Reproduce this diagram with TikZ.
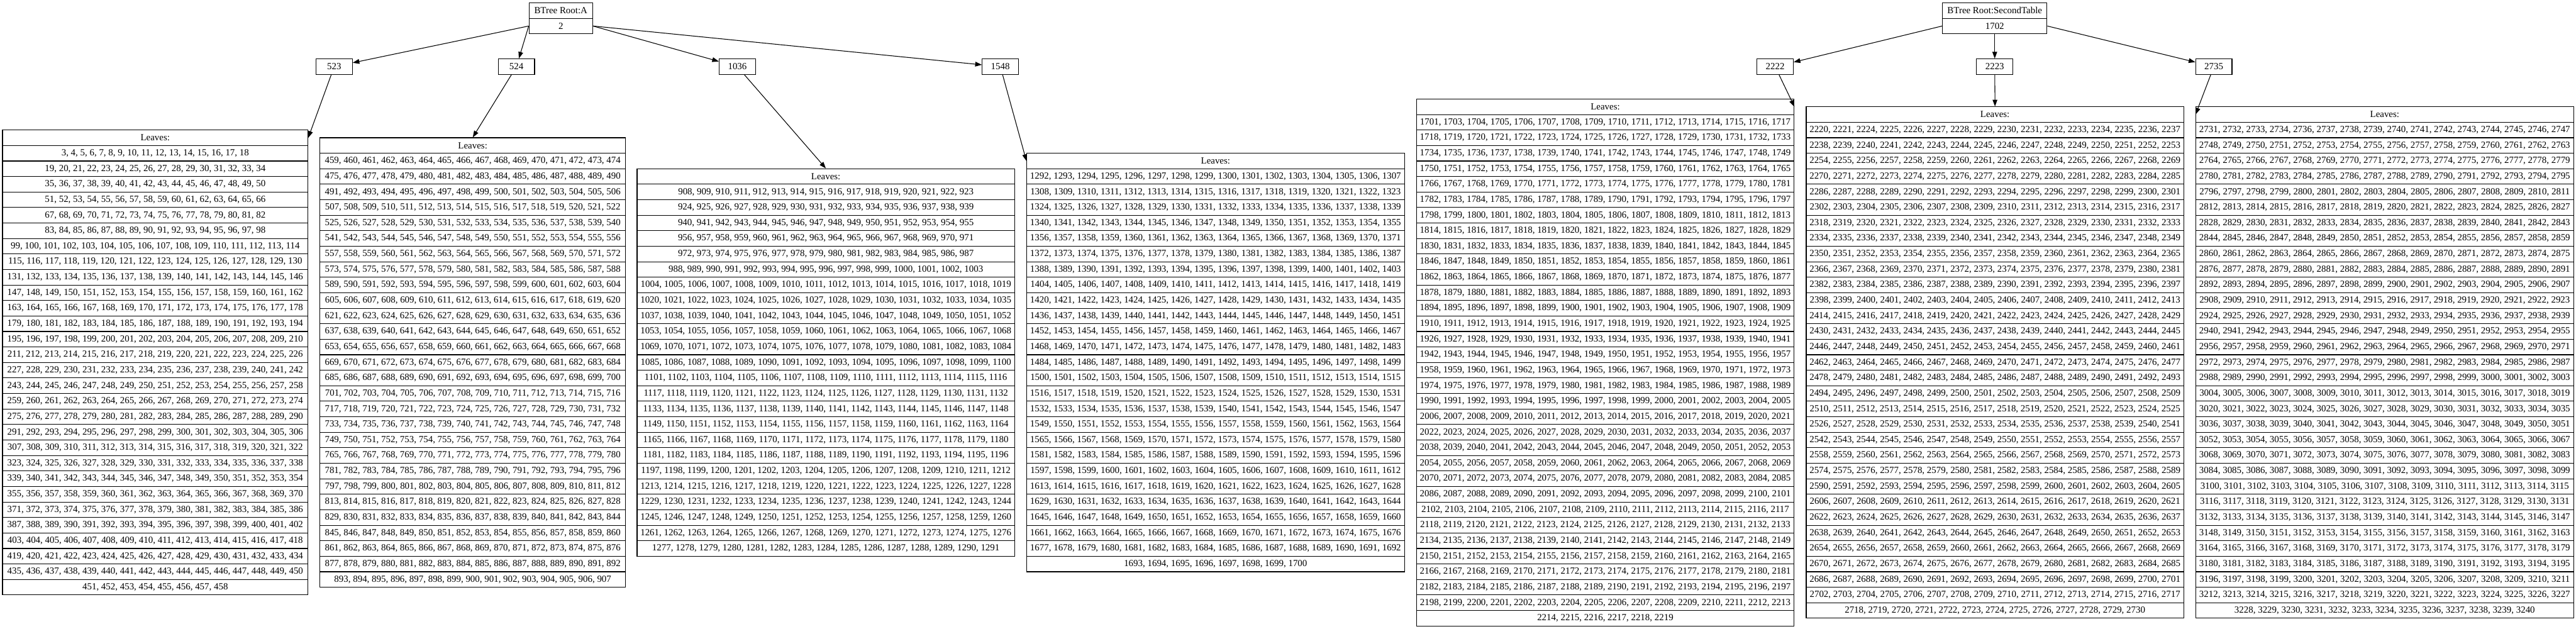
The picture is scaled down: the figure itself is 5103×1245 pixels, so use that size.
\documentclass[tikz,border=0pt]{standalone}
\usepackage{fontspec}
\setmainfont{Liberation Serif}
\usetikzlibrary{arrows.meta}
\newcount\rcnt
\newcommand\numrange[2]{\rcnt=#1\relax\the\rcnt\loop\ifnum\rcnt<#2\relax\advance\rcnt by 1\relax, \the\rcnt\repeat}
\tikzset{
  rowbox/.style={draw=black, line width=1pt, inner sep=0pt, minimum height=23.025pt, anchor=center},
  childbox/.style={rowbox, minimum width=54pt},
  arr/.style={draw=black, line width=1pt, -{Triangle[length=9.9pt,width=7pt]}},
}
% #1 name, #2 x centre, #3 width, #4 top y
\newcommand\leafhead[4]{\node[rowbox,minimum width=#3] (#1h) at (#2,{#4+15.35}) {Leaves:};}
% #1 name, #2 x centre, #3 width, #4 top y, #5 rows already placed, #6 first number, #7 last number
\newcommand\leafrows[7]{%
  \pgfmathtruncatemacro\nrw{ceil((#7-#6+1)/16)}%
  \foreach \j in {1,...,\nrw}{%
    \pgfmathtruncatemacro\lnstart{#6+16*(\j-1)}%
    \pgfmathtruncatemacro\lnend{min(\lnstart+15,#7)}%
    \pgfmathtruncatemacro\rowidx{#5+\j}%
    \pgfmathsetmacro\yy{#4+(\rowidx-0.5)*30.7}%
    \node[rowbox, minimum width=#3, name=#1r\rowidx] at (#2,\yy) {\numrange{\lnstart}{\lnend}};
  }%
}
\begin{document}
\begin{tikzpicture}[x=0.75pt,y=-0.75pt,font=\fontsize{13.95pt}{16pt}\selectfont]
\useasboundingbox (0,0) rectangle (5103,1245);
% ---------- first tree ----------
\node[rowbox,minimum width=94.5pt] (rA1) at (1111,20.85) {BTree Root:A};
\node[rowbox,minimum width=94.5pt] (rA2) at (1111,51.55) {2};
\node[childbox] (n523) at (662,132) {523};
\node[childbox] (n524) at (1023,132) {524};
\node[childbox] (n1036) at (1460.7,132) {1036};
\node[childbox] (n1548) at (1981.7,132) {1548};
% leaves
\leafhead{L1}{307.5}{453.75pt}{257.5}
\leafrows{L1}{307.5}{453.75pt}{257.5}{1}{3}{458}
\leafhead{L2}{936.5}{453.75pt}{272.85}
\leafrows{L2}{936.5}{453.75pt}{272.85}{1}{459}{522}
\leafrows{L2}{936.5}{453.75pt}{272.85}{5}{525}{907}
\leafhead{L3}{1636}{561pt}{334.25}
\leafrows{L3}{1636}{561pt}{334.25}{1}{908}{1035}
\leafrows{L3}{1636}{561pt}{334.25}{9}{1037}{1291}
\leafhead{L4}{2408}{561pt}{303.55}
\leafrows{L4}{2408}{561pt}{303.55}{1}{1292}{1547}
\leafrows{L4}{2408}{561pt}{303.55}{17}{1549}{1700}
% edges
\draw[arr] (rA2.west) -- (n523);
\draw[arr] (rA2.west) -- (n524);
\draw[arr] (rA2.east) -- (n1036);
\draw[arr] (rA2.east) -- (n1548);
\draw[arr] (n523) -- (L1h.east);
\draw[arr] (n524) -- (L2h.north);
\draw[arr] (n1036) -- (L3h.north);
\draw[arr] (n1548) -- (L4h.west);
% ---------- second tree ----------
\node[rowbox,minimum width=155.25pt] (rB1) at (3951.5,20.85) {BTree Root:SecondTable};
\node[rowbox,minimum width=155.25pt] (rB2) at (3951.5,51.55) {1702};
\node[childbox] (n2222) at (3516.5,132) {2222};
\node[childbox] (n2223) at (3951.5,132) {2223};
\node[childbox] (n2735) at (4385.5,132) {2735};
\leafhead{R1}{3180}{561pt}{196.1}
\node[rowbox,minimum width=561pt] (R1r2) at (3180,{196.1+1.5*30.7}) {1701, \numrange{1703}{1717}};
\leafrows{R1}{3180}{561pt}{196.1}{2}{1718}{2219}
\leafhead{R2}{3952}{561pt}{211.45}
\node[rowbox,minimum width=561pt] (R2r2) at (3952,{211.45+1.5*30.7}) {2220, 2221, \numrange{2224}{2237}};
\leafrows{R2}{3952}{561pt}{211.45}{2}{2238}{2730}
\leafhead{R3}{4724}{561pt}{211.45}
\node[rowbox,minimum width=561pt] (R3r2) at (4724,{211.45+1.5*30.7}) {2731, 2732, 2733, 2734, \numrange{2736}{2747}};
\leafrows{R3}{4724}{561pt}{211.45}{2}{2748}{3240}
\draw[arr] (rB2.west) -- (n2222);
\draw[arr] (rB2.south) -- (n2223);
\draw[arr] (rB2.east) -- (n2735);
\draw[arr] (n2222) -- (R1h.east);
\draw[arr] (n2223) -- (R2h.north);
\draw[arr] (n2735) -- (R3h.west);
\end{tikzpicture}
\end{document}
